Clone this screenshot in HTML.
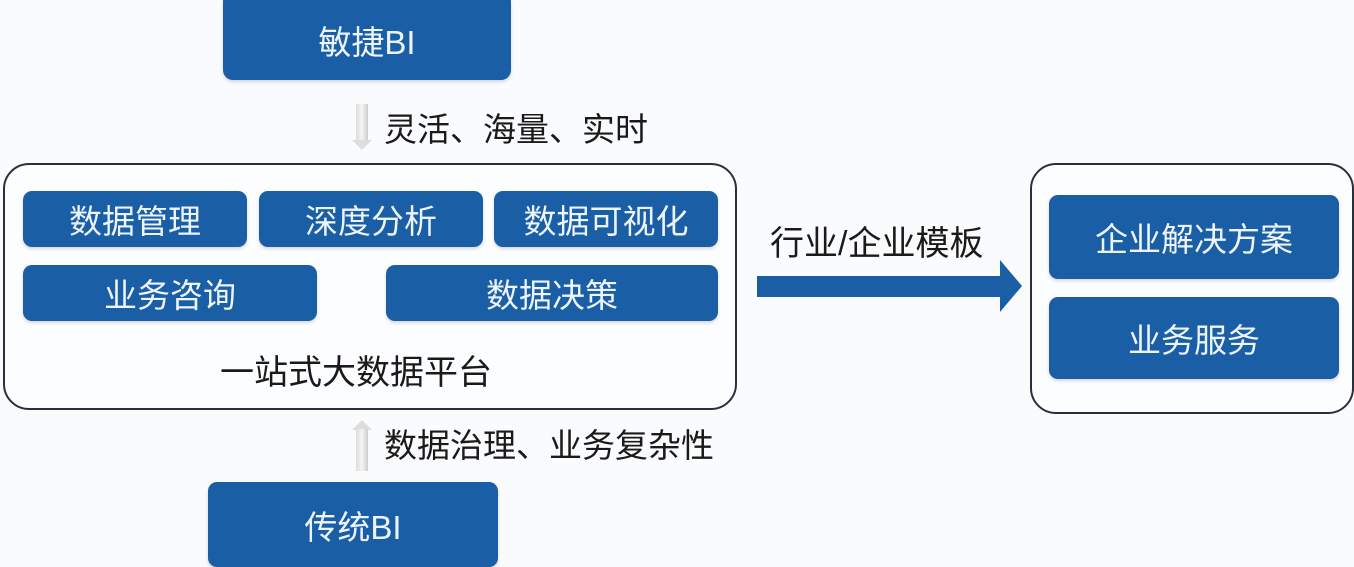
<!DOCTYPE html>
<html><head><meta charset="utf-8"><style>
body{margin:0;width:1354px;height:562px;background:#fafbfd;position:relative;overflow:hidden;font-family:"Liberation Sans","Noto Sans CJK SC",sans-serif}
.b{position:absolute;background:#1a5ea6;color:#eef4fb;border-radius:9px;display:flex;align-items:center;justify-content:center;font-size:33px;box-shadow:0 2px 3px rgba(0,0,0,.15)}
.c{position:absolute;border:2px solid #2a2f40;border-radius:26px;background:#fcfdff}
.t{position:absolute;font-size:33px;color:#1a1a1a;white-space:nowrap;line-height:1}
.ga{position:absolute;width:12px;background:linear-gradient(90deg,#ddd,#f4f4f4,#ccc)}
</style></head><body>
<div class="b" style="left:223px;top:0;width:288px;height:80px;border-radius:0 0 10px 10px">敏捷BI</div>
<div class="ga" style="left:356px;top:104px;height:38px"></div>
<div style="position:absolute;left:352px;top:140px;border-left:10px solid transparent;border-right:10px solid transparent;border-top:10px solid #ddd"></div>
<div class="t" style="left:384px;top:113px">灵活、海量、实时</div>
<div class="c" style="left:3px;top:163px;width:730px;height:243px"></div>
<div class="b" style="left:23px;top:191px;width:224px;height:56px">数据管理</div>
<div class="b" style="left:259px;top:191px;width:224px;height:56px">深度分析</div>
<div class="b" style="left:494px;top:191px;width:224px;height:56px">数据可视化</div>
<div class="b" style="left:23px;top:265px;width:294px;height:56px">业务咨询</div>
<div class="b" style="left:386px;top:265px;width:332px;height:56px">数据决策</div>
<div class="t" style="left:220px;top:356px;font-size:34px">一站式大数据平台</div>
<div style="position:absolute;left:352px;top:420px;border-left:10px solid transparent;border-right:10px solid transparent;border-bottom:10px solid #ddd"></div>
<div class="ga" style="left:356px;top:429px;height:42px"></div>
<div class="t" style="left:384px;top:429px">数据治理、业务复杂性</div>
<div class="b" style="left:208px;top:482px;width:290px;height:85px">传统BI</div>
<div class="t" style="left:770px;top:227px;font-size:34px">行业/企业模板</div>
<div style="position:absolute;left:757px;top:276px;width:245px;height:21px;background:#1a5ea6"></div>
<div style="position:absolute;left:1000px;top:260px;border-top:26px solid transparent;border-bottom:26px solid transparent;border-left:22px solid #1a5ea6"></div>
<div class="c" style="left:1030px;top:163px;width:320px;height:247px"></div>
<div class="b" style="left:1049px;top:195px;width:290px;height:84px">企业解决方案</div>
<div class="b" style="left:1049px;top:297px;width:290px;height:82px">业务服务</div>
</body></html>
